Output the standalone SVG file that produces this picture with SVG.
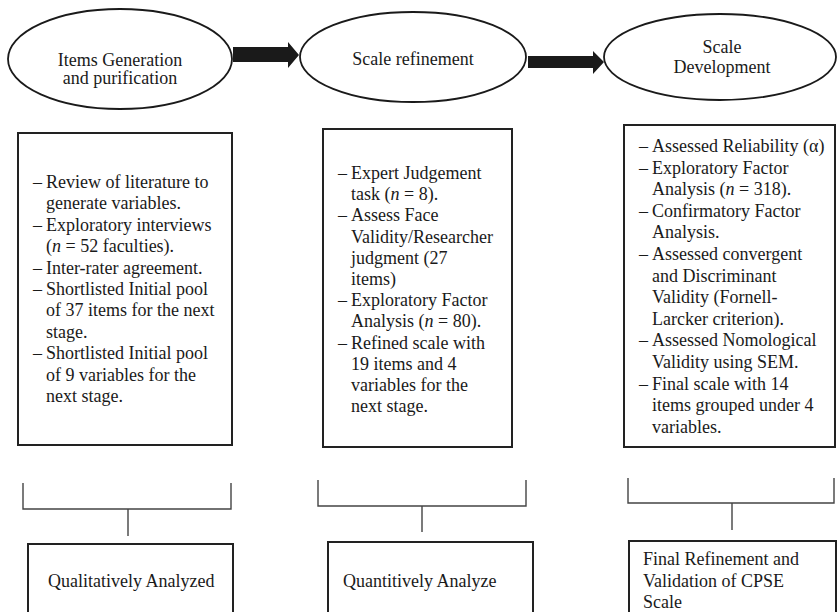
<svg xmlns="http://www.w3.org/2000/svg" width="837" height="612" viewBox="0 0 837 612">
<style>
  .ell { fill: #fff; stroke: #1a1a1a; stroke-width: 1.8; }
  .box { fill: #fff; stroke: #222; stroke-width: 2; }
  .brk { fill: none; stroke: #444; stroke-width: 1.4; }
  .arr { fill: #1a1a1a; stroke: none; }
  text { font-family: "Liberation Serif", "Times New Roman", serif; font-size: 18px; fill: #1a1a1a; }
  .c { text-anchor: middle; }
</style>
<rect width="837" height="612" fill="#fff"/>

<g id="connectors">
  <polygon class="arr" points="233,47 288,47 288,42 299,55 288,68 288,62 233,62"/>
  <polygon class="arr" points="528,56 593,56 593,51 604,62 593,74 593,68 528,68"/>
  <path class="brk" d="M23,483 V509 H231 V483 M128,509 V536"/>
  <path class="brk" d="M318,480 V506 H526 V480 M422,506 V532"/>
  <path class="brk" d="M628,478 V503 H834 V478 M732,503 V530"/>
</g>

<g id="stage1">
  <ellipse class="ell" cx="120" cy="59" rx="112" ry="50"/>
  <text class="c" x="120" y="66">Items Generation</text>
  <text class="c" x="120" y="84">and purification</text>
</g>
<g id="stage2">
  <ellipse class="ell" cx="413" cy="57" rx="113" ry="45"/>
  <text class="c" x="413" y="65">Scale refinement</text>
</g>
<g id="stage3">
  <ellipse class="ell" cx="720" cy="57" rx="116" ry="43"/>
  <text class="c" x="722" y="53">Scale</text>
  <text class="c" x="722" y="73">Development</text>
</g>

<g id="box1">
  <rect class="box" x="18" y="133" width="214" height="312"/>
  <text x="33" y="188">–</text><text x="46" y="188">Review of literature to</text>
  <text x="46" y="209.4">generate variables.</text>
  <text x="33" y="230.8">–</text><text x="46" y="230.8">Exploratory interviews</text>
  <text x="46" y="252.2">(<tspan font-style="italic">n</tspan> = 52 faculties).</text>
  <text x="33" y="273.6">–</text><text x="46" y="273.6">Inter-rater agreement.</text>
  <text x="33" y="295">–</text><text x="46" y="295">Shortlisted Initial pool</text>
  <text x="46" y="316.4">of 37 items for the next</text>
  <text x="46" y="337.8">stage.</text>
  <text x="33" y="359.2">–</text><text x="46" y="359.2">Shortlisted Initial pool</text>
  <text x="46" y="380.6">of 9 variables for the</text>
  <text x="46" y="402">next stage.</text>
</g>

<g id="box2">
  <rect class="box" x="323" y="129" width="189" height="318"/>
  <text x="338" y="179">–</text><text x="351" y="179">Expert Judgement</text>
  <text x="351" y="200.2">task (<tspan font-style="italic">n</tspan> = 8).</text>
  <text x="338" y="221.4">–</text><text x="351" y="221.4">Assess Face</text>
  <text x="351" y="242.6">Validity/Researcher</text>
  <text x="351" y="263.8">judgment (27</text>
  <text x="351" y="285">items)</text>
  <text x="338" y="306.2">–</text><text x="351" y="306.2">Exploratory Factor</text>
  <text x="351" y="327.4">Analysis (<tspan font-style="italic">n</tspan> = 80).</text>
  <text x="338" y="348.6">–</text><text x="351" y="348.6">Refined scale with</text>
  <text x="351" y="369.8">19 items and 4</text>
  <text x="351" y="391">variables for the</text>
  <text x="351" y="412.2">next stage.</text>
</g>

<g id="box3">
  <rect class="box" x="624" y="125" width="211" height="322"/>
  <text x="639" y="152">–</text><text x="652" y="152">Assessed Reliability (α)</text>
  <text x="639" y="173.6">–</text><text x="652" y="173.6">Exploratory Factor</text>
  <text x="652" y="195.2">Analysis (<tspan font-style="italic">n</tspan> = 318).</text>
  <text x="639" y="216.8">–</text><text x="652" y="216.8">Confirmatory Factor</text>
  <text x="652" y="238.4">Analysis.</text>
  <text x="639" y="260">–</text><text x="652" y="260">Assessed convergent</text>
  <text x="652" y="281.6">and Discriminant</text>
  <text x="652" y="303.2">Validity (Fornell-</text>
  <text x="652" y="324.8">Larcker criterion).</text>
  <text x="639" y="346.4">–</text><text x="652" y="346.4">Assessed Nomological</text>
  <text x="652" y="368">Validity using SEM.</text>
  <text x="639" y="389.6">–</text><text x="652" y="389.6">Final scale with 14</text>
  <text x="652" y="411.2">items grouped under 4</text>
  <text x="652" y="432.8">variables.</text>
</g>

<g id="result1">
  <rect class="box" x="28" y="544" width="205" height="80"/>
  <text x="48" y="587">Qualitatively Analyzed</text>
</g>
<g id="result2">
  <rect class="box" x="328" y="542" width="205" height="80"/>
  <text x="343" y="587">Quantitively Analyze</text>
</g>
<g id="result3">
  <rect class="box" x="629" y="541" width="207" height="80"/>
  <text x="643" y="565">Final Refinement and</text>
  <text x="643" y="587">Validation of CPSE</text>
  <text x="643" y="608">Scale</text>
</g>
</svg>
